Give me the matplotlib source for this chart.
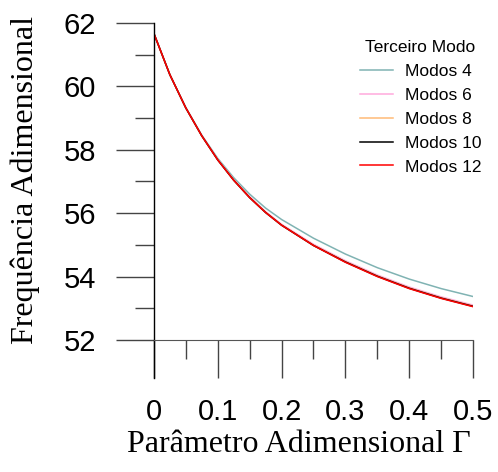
import matplotlib.pyplot as plt
from matplotlib.ticker import MultipleLocator, FixedLocator

# Parameter values and frequencies
gamma = [0.0, 0.025, 0.05, 0.075, 0.1, 0.125, 0.15, 0.175, 0.2,
         0.25, 0.3, 0.35, 0.4, 0.45, 0.5]
modos_12 = [61.67, 60.37, 59.32, 58.44, 57.68, 57.04, 56.49, 56.02, 55.62,
            54.98, 54.45, 54.00, 53.62, 53.31, 53.05]
modos_10 = [61.67, 60.37, 59.32, 58.44, 57.68, 57.04, 56.49, 56.02, 55.62,
            54.98, 54.46, 54.01, 53.63, 53.32, 53.06]
modos_8 = [61.67, 60.37, 59.32, 58.44, 57.69, 57.05, 56.50, 56.03, 55.63,
           54.99, 54.47, 54.02, 53.64, 53.33, 53.07]
modos_6 = [61.67, 60.37, 59.33, 58.45, 57.70, 57.06, 56.52, 56.05, 55.65,
           55.02, 54.50, 54.05, 53.67, 53.36, 53.10]
modos_4 = [61.67, 60.37, 59.33, 58.46, 57.73, 57.12, 56.60, 56.16, 55.80,
           55.21, 54.71, 54.28, 53.92, 53.62, 53.37]

series = [
    ('Modos 4', modos_4, '#80b3b3'),
    ('Modos 6', modos_6, '#ffaadd'),
    ('Modos 8', modos_8, '#ffbb77'),
    ('Modos 10', modos_10, 'black'),
    ('Modos 12', modos_12, 'red'),
]

fig = plt.figure(figsize=(4.98, 4.72), dpi=100)
ax = fig.add_axes([0.309, 0.1992, 0.641, 0.7521])

for label, values, color in series:
    ax.plot(gamma, values, color=color, lw=1.1, label=label)

ax.set_xlim(0, 0.5)
ax.set_ylim(50.8, 62)

# Mathematica-like axes crossing at (0, 52)
for side in ['top', 'right']:
    ax.spines[side].set_visible(False)
ax.spines['bottom'].set_position(('data', 52))
ax.spines['bottom'].set_color('#555555')
ax.spines['left'].set_linewidth(1.0)

ax.set_xticks([0, 0.1, 0.2, 0.3, 0.4, 0.5])
ax.set_xticklabels(['0', '0.1', '0.2', '0.3', '0.4', '0.5'])
ax.xaxis.set_minor_locator(MultipleLocator(0.05))
ax.set_yticks([52, 54, 56, 58, 60, 62])
ax.yaxis.set_minor_locator(FixedLocator([53, 55, 57, 59, 61]))

ax.tick_params(axis='both', which='major', direction='out', length=27.5,
               width=1.0, color='#444444', labelsize=21, pad=14)
ax.tick_params(axis='both', which='minor', direction='out', length=13.7,
               width=1.0, color='#444444')
for lbl in ax.get_xticklabels() + ax.get_yticklabels():
    lbl.set_fontfamily('Liberation Sans')

fig.text(0.6, 1 - 445 / 472, 'Parâmetro Adimensional Γ', ha='center',
         va='center', fontsize=23, family='Liberation Serif')
fig.text(0.05, 1 - 180 / 472, 'Frequência Adimensional', ha='center',
         va='center', rotation=90, fontsize=23, family='Liberation Serif')

leg = ax.legend(title='Terceiro Modo', loc='upper right',
                bbox_to_anchor=(1.075, 0.995), frameon=False,
                prop={'family': 'Liberation Sans', 'size': 12.5},
                handlelength=1.9, handletextpad=0.7, labelspacing=0.5)
leg.get_title().set_fontfamily('Liberation Sans')
leg.get_title().set_fontsize(12.5)

plt.savefig('out.png', dpi=100)
